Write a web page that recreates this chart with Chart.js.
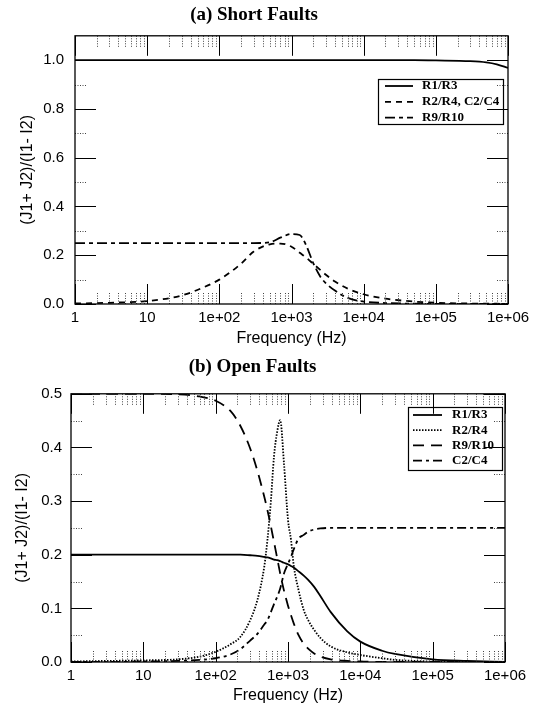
<!DOCTYPE html>
<html>
<head>
<meta charset="utf-8">
<script src="https://cdn.jsdelivr.net/npm/chart.js@4.4.1/dist/chart.umd.min.js"></script>
<style>
    body { margin: 0; background: #fff; }
    #wrap { position: relative; width: 538px; height: 707px; overflow: hidden; }
    canvas { position: absolute; left: 0; }
</style>
</head>
<body>
<div id="wrap">
    <canvas id="short-chart" width="538" height="350" style="top:0"></canvas>
    <canvas id="open-chart" width="538" height="357" style="top:350px"></canvas>
</div>
<script>
// x axis (shared)
const freqTicks = [1, 10, 1e2, 1e3, 1e4, 1e5, 1e6];
const freqLabels = ['1', '10', '1e+02', '1e+03', '1e+04', '1e+05', '1e+06'];

// (a) Short Faults
const shortFreq = [1, 3, 10, 30, 60, 100, 200, 300, 500, 700, 1000, 1300, 1600, 2000, 2500, 3000, 4000, 6000, 1e4, 2e4, 5e4, 1e5, 3e5, 5e5, 7e5, 1e6];
const shortR1R3 = [1, 1, 1, 1, 1, 1, 1, 1, 1, 1, 1, 1, 1, 1, 1, 1, 1, 1, 1, 1, 1, 0.999, 0.996, 0.991, 0.983, 0.968];
const shortR2R4 = [0.002, 0.005, 0.012, 0.035, 0.068, 0.1, 0.165, 0.215, 0.245, 0.248, 0.235, 0.21, 0.19, 0.165, 0.14, 0.12, 0.092, 0.063, 0.04, 0.022, 0.01, 0.005, 0.002, 0.001, 0.001, 0];
const shortR9R10 = [0.25, 0.25, 0.25, 0.25, 0.25, 0.25, 0.25, 0.25, 0.253, 0.272, 0.287, 0.283, 0.24, 0.168, 0.113, 0.085, 0.055, 0.025, 0.01, 0.004, 0.001, 0, 0, 0, 0, 0];
const shortYTicks = [0, 0.2, 0.4, 0.6, 0.8, 1.0];
const shortYMinor = [0.1, 0.3, 0.5, 0.7, 0.9];

// (b) Open Faults
const openFreq = [1, 3, 10, 30, 60, 100, 160, 220, 300, 380, 470, 520, 580, 640, 710, 780, 880, 1000, 1100, 1200, 1400, 1650, 1900, 2300, 2800, 3900, 6600, 1e4, 2e4, 3e4, 1e5, 3e5, 1e6];
const openR1R3 = [0.2, 0.2, 0.2, 0.2, 0.2, 0.2, 0.2, 0.2, 0.199, 0.198, 0.196, 0.195, 0.193, 0.191, 0.19, 0.188, 0.185, 0.182, 0.179, 0.176, 0.169, 0.161, 0.153, 0.14, 0.123, 0.093, 0.057, 0.038, 0.021, 0.015, 0.005, 0.002, 0];
const openR2R4 = [0.001, 0.002, 0.003, 0.005, 0.01, 0.019, 0.033, 0.047, 0.078, 0.117, 0.178, 0.228, 0.3, 0.383, 0.43, 0.451, 0.37, 0.265, 0.228, 0.18, 0.134, 0.097, 0.078, 0.06, 0.045, 0.029, 0.018, 0.013, 0.007, 0.004, 0.001, 0, 0];
const openR9R10 = [0.5, 0.5, 0.5, 0.499, 0.495, 0.487, 0.468, 0.44, 0.398, 0.355, 0.308, 0.283, 0.253, 0.224, 0.193, 0.165, 0.133, 0.105, 0.087, 0.072, 0.05, 0.034, 0.025, 0.016, 0.01, 0.005, 0.002, 0.001, 0, 0, 0, 0, 0];
const openC2C4 = [0, 0, 0.001, 0.002, 0.004, 0.007, 0.014, 0.024, 0.04, 0.053, 0.07, 0.078, 0.093, 0.108, 0.122, 0.137, 0.165, 0.183, 0.196, 0.21, 0.23, 0.237, 0.243, 0.247, 0.249, 0.25, 0.25, 0.25, 0.25, 0.25, 0.25, 0.25, 0.25];
const openYTicks = [0, 0.1, 0.2, 0.3, 0.4, 0.5];
const openYMinor = [0.05, 0.15, 0.25, 0.35, 0.45];

const toPoints = (xs, ys) => xs.map((x, i) => ({ x: x, y: ys[i] }));

// inward ticks, dotted minor ticks and the frame (gnuplot look)
const axisMarks = {
    id: 'axisMarks',
    afterDatasetsDraw(chart, args, opts) {
        const ctx = chart.ctx;
        const a = chart.chartArea;
        const x = chart.scales.x;
        const y = chart.scales.y;
        const line = (x1, y1, x2, y2) => {
            ctx.beginPath();
            ctx.moveTo(x1, y1);
            ctx.lineTo(x2, y2);
            ctx.stroke();
        };
        ctx.save();
        // minor
        ctx.strokeStyle = '#444';
        ctx.lineWidth = 1;
        ctx.setLineDash([1, 1.5]);
        for (let d = 1; d < 1e6; d *= 10) {
            for (let k = 2; k <= 9; k++) {
                let px = Math.round(x.getPixelForValue(d * k)) + 0.5;
                line(px, a.bottom, px, a.bottom - 11);
                line(px, a.top, px, a.top + 11);
            }
        }
        opts.yMinor.forEach(v => {
            let py = Math.round(y.getPixelForValue(v)) + 0.5;
            line(a.left, py, a.left + 12, py);
            line(a.right, py, a.right - 12, py);
        });
        // major
        ctx.setLineDash([]);
        ctx.strokeStyle = '#000';
        freqTicks.forEach(v => {
            let px = Math.round(x.getPixelForValue(v)) + 0.5;
            line(px, a.bottom, px, a.bottom - 20);
            line(px, a.top, px, a.top + 20);
        });
        opts.yMajor.forEach(v => {
            let py = Math.round(y.getPixelForValue(v)) + 0.5;
            line(a.left, py, a.left + 21, py);
            line(a.right, py, a.right - 21, py);
        });
        ctx.lineWidth = 1.3;
        ctx.strokeRect(a.left, a.top, a.right - a.left, a.bottom - a.top);
        ctx.restore();
    }
};

// boxed legend inside the plot
const boxLegend = {
    id: 'boxLegend',
    afterDraw(chart, args, opts) {
        const ctx = chart.ctx;
        ctx.save();
        ctx.strokeStyle = '#000';
        ctx.lineWidth = 1.2;
        ctx.strokeRect(opts.left + 0.5, opts.top + 0.5, opts.width, opts.height);
        ctx.font = 'bold 13px "Liberation Serif", "Times New Roman", serif';
        ctx.textBaseline = 'middle';
        ctx.fillStyle = '#000';
        chart.data.datasets.forEach((ds, i) => {
            let ry = opts.top + opts.first + i * opts.step;
            ctx.lineWidth = ds.borderWidth;
            ctx.setLineDash(ds.borderDash || []);
            ctx.beginPath();
            ctx.moveTo(opts.sampleX, ry);
            ctx.lineTo(opts.sampleX + opts.sampleLen, ry);
            ctx.stroke();
            ctx.setLineDash([]);
            ctx.fillText(ds.label, opts.textX, ry);
        });
        ctx.restore();
    }
};

function makeDataset(label, xs, ys, dash) {
    return {
        label: label,
        data: toPoints(xs, ys),
        borderColor: '#000',
        borderWidth: 1.8,
        borderDash: dash,
        pointRadius: 0,
        fill: false,
        cubicInterpolationMode: 'monotone'
    };
}

function makeChart(canvasId, setup) {
    return new Chart(document.getElementById(canvasId), {
        type: 'line',
        data: { datasets: setup.datasets },
        options: {
            responsive: false,
            animation: false,
            devicePixelRatio: 1,
            layout: { padding: { left: 0, right: setup.rightPad, top: 0, bottom: 0 } },
            plugins: {
                legend: { display: false },
                tooltip: { enabled: false },
                title: {
                    display: true,
                    text: setup.title,
                    color: '#000',
                    font: { family: '"Liberation Serif", "Times New Roman", serif', size: 19, weight: 'bold', lineHeight: 1.2 },
                    padding: setup.titlePad
                },
                axisMarks: { yMajor: setup.yTicks, yMinor: setup.yMinor },
                boxLegend: setup.legend
            },
            scales: {
                x: {
                    type: 'logarithmic',
                    min: 1,
                    max: 1e6,
                    grid: { display: false, drawTicks: false },
                    border: { display: false },
                    afterBuildTicks: s => { s.ticks = freqTicks.map(v => ({ value: v })); },
                    afterFit: s => { s.height = setup.xHeight; },
                    ticks: {
                        autoSkip: false,
                        maxRotation: 0,
                        padding: 5,
                        color: '#000',
                        font: { family: '"Liberation Sans", Arial, sans-serif', size: 15 },
                        callback: (v) => freqLabels[freqTicks.indexOf(v)] || ''
                    },
                    title: {
                        display: true,
                        text: 'Frequency (Hz)',
                        color: '#000',
                        font: { family: '"Liberation Sans", Arial, sans-serif', size: 16 },
                        padding: { top: 0, bottom: 2 }
                    }
                },
                y: {
                    min: 0,
                    max: setup.yMax,
                    grid: { display: false, drawTicks: false },
                    border: { display: false },
                    afterBuildTicks: s => { s.ticks = setup.yTicks.map(v => ({ value: v })); },
                    afterFit: s => { s.width = setup.yWidth; },
                    ticks: {
                        padding: setup.yPad,
                        color: '#000',
                        font: { family: '"Liberation Sans", Arial, sans-serif', size: 15 },
                        callback: (v) => Number(v).toFixed(1)
                    },
                    title: {
                        display: true,
                        text: '(J1+ J2)/(I1- I2)',
                        color: '#000',
                        font: { family: '"Liberation Sans", Arial, sans-serif', size: 16 },
                        padding: { top: setup.yTitlePad, bottom: 0 }
                    }
                }
            }
        },
        plugins: [axisMarks, boxLegend]
    });
}

makeChart('short-chart', {
    title: '(a) Short Faults',
    titlePad: { top: 4, bottom: 9 },
    datasets: [
        makeDataset('R1/R3', shortFreq, shortR1R3, []),
        makeDataset('R2/R4, C2/C4', shortFreq, shortR2R4, [6, 5]),
        makeDataset('R9/R10', shortFreq, shortR9R10, [10, 4, 4, 4])
    ],
    yMax: 1.1,
    yTicks: shortYTicks,
    yMinor: shortYMinor,
    yWidth: 75,
    yPad: 11,
    yTitlePad: 18,
    xHeight: 46,
    rightPad: 30,
    legend: { left: 378, top: 79, width: 125, height: 45, first: 7, step: 15.8, sampleX: 385, sampleLen: 28, textX: 422 }
});

makeChart('open-chart', {
    title: '(b) Open Faults',
    titlePad: { top: 6, bottom: 15 },
    datasets: [
        makeDataset('R1/R3', openFreq, openR1R3, []),
        makeDataset('R2/R4', openFreq, openR2R4, [1.5, 1.5]),
        makeDataset('R9/R10', openFreq, openR9R10, [11, 7]),
        makeDataset('C2/C4', openFreq, openC2C4, [9, 4, 3, 4])
    ],
    yMax: 0.5,
    yTicks: openYTicks,
    yMinor: openYMinor,
    yWidth: 71,
    yPad: 9,
    yTitlePad: 13,
    xHeight: 45,
    rightPad: 33,
    legend: { left: 408, top: 57, width: 94, height: 63, first: 8, step: 15.2, sampleX: 413, sampleLen: 29, textX: 452 }
});
</script>
</body>
</html>
